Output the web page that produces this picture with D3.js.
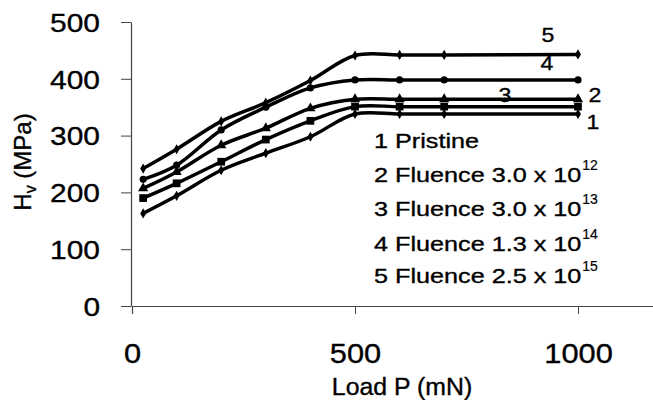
<!DOCTYPE html>
<html><head><meta charset="utf-8">
<script src="https://cdn.jsdelivr.net/npm/d3@7"></script>
<style>body{margin:0;background:#fff;} text{font-family:"Liberation Sans",Arial,sans-serif;fill:#000;stroke:#000;stroke-width:0.35px;}</style>
</head><body><svg id="c" width="653" height="400"></svg>
<script>
const loads = [25,100,200,300,400,500,600,700,1000];
const s1 = [163,194,239,269,298,338,338,338,338];
const s2 = [190,216,254,293,326,351,351,351,351];
const s3 = [207,236,283,313,348,364,364,364,364];
const s4 = [223,248,310,350,384,398,398,398,398];
const s5 = [242,276,325,358,397,441,442,442,443];
const seriesNames = ["1","2","3","4","5"];
const legendMain = ["1 Pristine","2 Fluence 3.0 x 10","3 Fluence 3.0 x 10","4 Fluence 1.3 x 10","5 Fluence 2.5 x 10"];
const legendSup = ["","12","13","14","15"];
const xTicks = [0,500,1000];
const yTicks = [0,100,200,300,400,500];

const svg = d3.select("#c");
const x = d3.scaleLinear().domain([0,1170]).range([132,132+1170*0.446]);
const y = d3.scaleLinear().domain([0,500]).range([306,22]);

function stretch(sel, sx){ sel.each(function(){ const w=this.getComputedTextLength(); d3.select(this).attr("textLength",w*sx).attr("lengthAdjust","spacingAndGlyphs"); }); }

// axes
const xAxis = svg.append("g").attr("transform","translate(0,306)")
  .call(d3.axisBottom(x).tickValues(xTicks).tickSize(8).tickFormat(d3.format("d")));
xAxis.select(".domain").attr("stroke","#444").attr("stroke-width",1.2);
xAxis.selectAll(".tick line").attr("stroke","#444");
xAxis.selectAll(".tick text").attr("y",57).attr("dy",0).style("font-size","28px").attr("font-family",null);
stretch(xAxis.selectAll(".tick text"),1.1);

const yAxis = svg.append("g").attr("transform","translate(131,0)")
  .call(d3.axisLeft(y).tickValues(yTicks).tickSize(10).tickSizeOuter(0));
yAxis.select(".domain").attr("stroke","#444").attr("stroke-width",1.2);
yAxis.selectAll(".tick line").attr("stroke","#444");
yAxis.selectAll(".tick text").attr("x",-31).attr("dy","0.36em").style("font-size","26px");
stretch(yAxis.selectAll(".tick text"),1.15);

// axis titles
const xt = svg.append("text").attr("x",402).attr("y",395).attr("text-anchor","middle").style("font-size","23px").text("Load P (mN)");
stretch(xt,1.08);
const yt = svg.append("text").attr("transform","translate(31,162) rotate(-90)").attr("text-anchor","middle").style("font-size","24px");
yt.append("tspan").text("H");
yt.append("tspan").attr("dy",5).style("font-size","16px").text("v");
yt.append("tspan").attr("dy",-5).text(" (MPa)");

// series
const all = [s1,s2,s3,s4,s5];
const line = d3.line().x((d,i)=>x(loads[i])).y(d=>y(d)).curve(d3.curveCatmullRom.alpha(0.5));
const shapes = [d3.symbolDiamond, d3.symbolSquare, d3.symbolTriangle, d3.symbolCircle, d3.symbolDiamond];
const sizes = [30, 60, 45, 40, 30];
all.forEach((s,k)=>{
  svg.append("path").datum(s).attr("d",line).attr("fill","none").attr("stroke","#000").attr("stroke-width",3.5);
});
all.forEach((s,k)=>{
  svg.append("g").selectAll("path").data(s).join("path")
    .attr("transform",(d,i)=>`translate(${x(loads[i])},${y(d)})`)
    .attr("d",d3.symbol().type(shapes[k]).size(sizes[k])).attr("fill","#000");
});

// series labels
const lab = [{t:"1",x:593,y:129},{t:"2",x:595,y:102},{t:"3",x:505,y:102},{t:"4",x:547,y:70},{t:"5",x:548,y:42}];
lab.forEach(l=>{ const t=svg.append("text").attr("x",l.x).attr("y",l.y).attr("text-anchor","middle").style("font-size","21px").text(l.t); stretch(t,1.1); });

// legend text
const base = [148,182,216,251,283];
legendMain.forEach((m,i)=>{
  const t = svg.append("text").attr("x",374).attr("y",base[i]).style("font-size","21px").text(m);
  const w = t.node().getComputedTextLength()*1.2;
  t.attr("textLength",w).attr("lengthAdjust","spacingAndGlyphs");
  if(legendSup[i]) svg.append("text").attr("x",374+w+1).attr("y",base[i]-12).style("font-size","14px").style("stroke-width","0.2px").text(legendSup[i]);
});
</script></body></html>
